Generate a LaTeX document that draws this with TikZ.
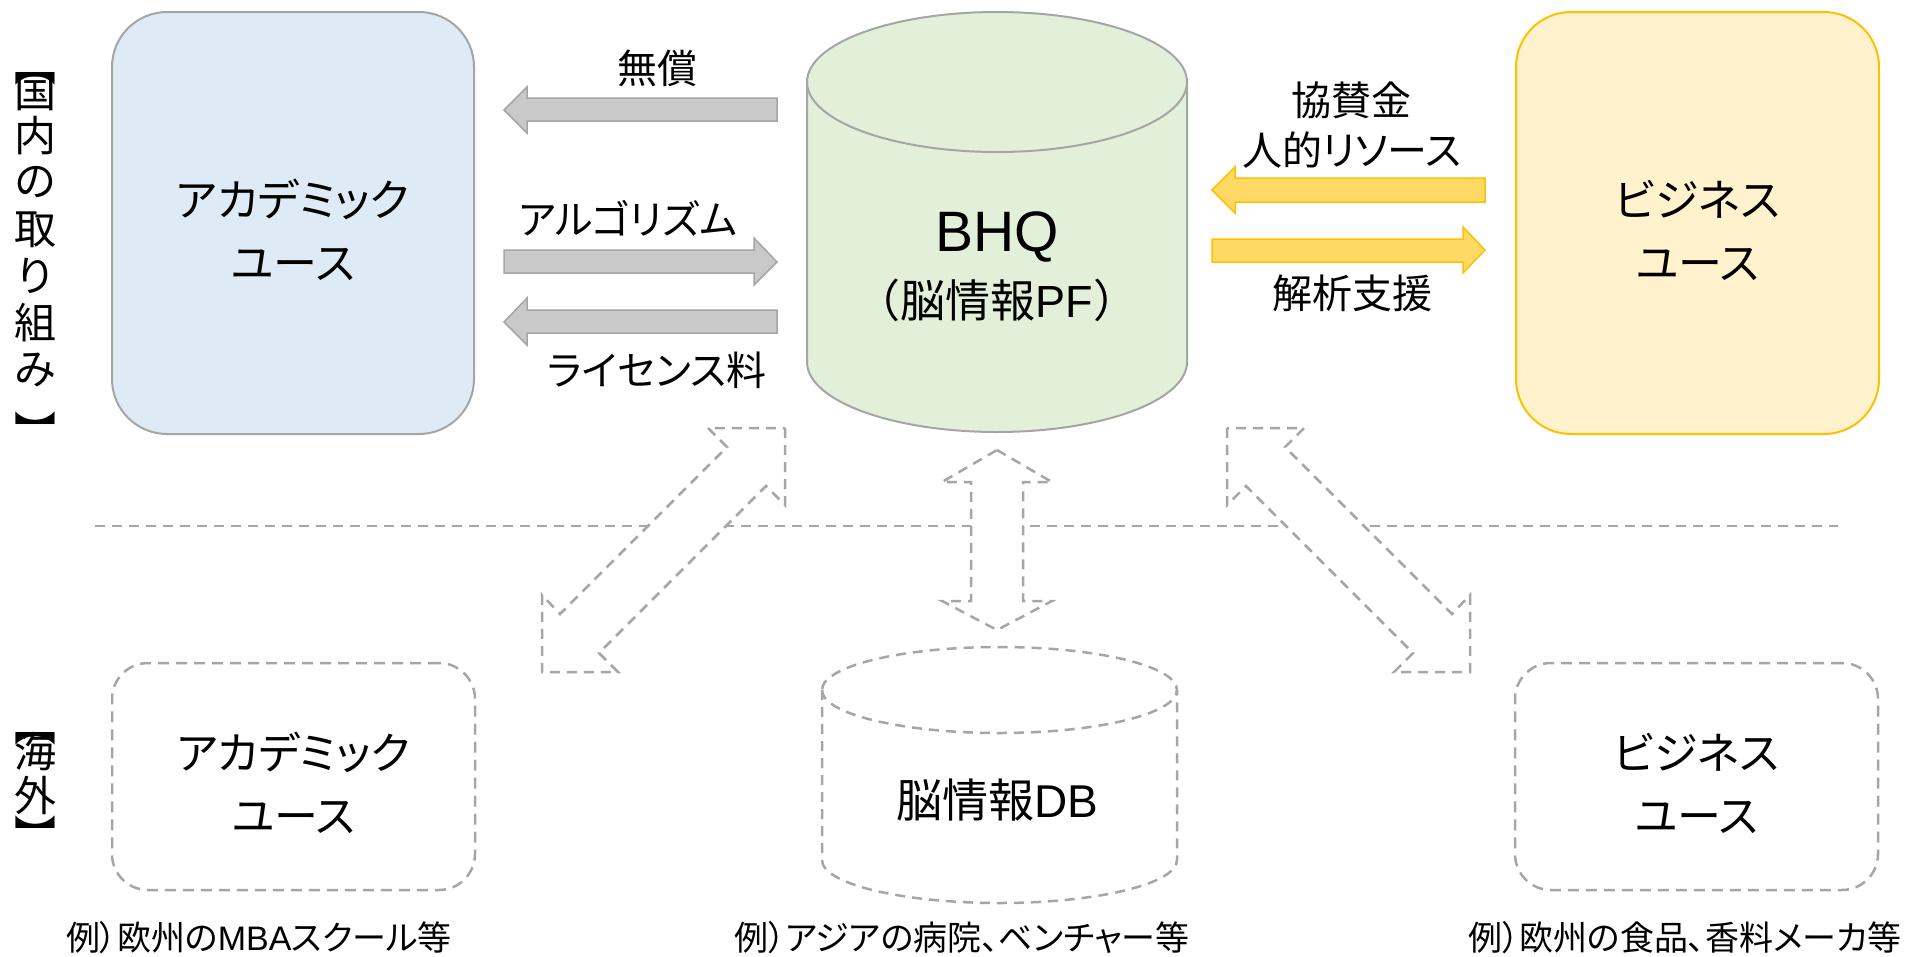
\documentclass[tikz,border=0pt]{standalone}
\usepackage{fontspec}
\setmainfont{Noto Sans CJK JP}[RawFeature=+palt]
\newfontfamily\jpf{Noto Sans CJK JP}
\newfontfamily\latf{Liberation Sans}
\newcommand\myfs[2]{\fontsize{#1}{#2}\selectfont}
\definecolor{gline}{HTML}{A5A5A5}
\definecolor{gfill}{HTML}{C9C9C9}
\definecolor{yline}{HTML}{FFC000}
\definecolor{yfill}{HTML}{FFD966}
\definecolor{bfill}{HTML}{DEEBF7}
\definecolor{cfill}{HTML}{E2F0D9}
\definecolor{bzfill}{HTML}{FFF2CC}
\definecolor{dline}{HTML}{A6A6A6}
\begin{document}
\begin{tikzpicture}[x=1pt,y=-1pt,
  solidbox/.style={draw=gline, line width=2pt, inner sep=0pt},
  dashbox/.style={draw=dline, line width=2.5pt, dash pattern=on 11pt off 7pt, fill=white, inner sep=0pt},
  dashshape/.style={draw=dline, line width=2.5pt, dash pattern=on 10pt off 7pt, fill=white},
  garrow/.style={draw=gline, fill=gfill, line width=1.5pt},
  yarrow/.style={draw=yline, fill=yfill, line width=1.5pt},
  lbl/.style={inner sep=0pt, align=center, font={\myfs{40}{48}}},
  boxlbl/.style={inner sep=0pt, align=center, font={\myfs{44}{63}}},
  exlbl/.style={inner sep=0pt, align=center, font={\myfs{34}{40}}},
  side/.style={inner sep=0pt, font={\myfs{42}{46}}}]
\useasboundingbox (0,0) rectangle (1917,956);

% separator line
\draw[draw=dline, line width=2.5pt, dash pattern=on 10pt off 7pt] (95,526) coordinate (sepL) -- (1838,526) coordinate (sepR);

% ---- top row ----
\node[solidbox, fill=bfill, rounded corners=55pt, minimum width=362pt, minimum height=422pt] (acad) at (293,223) {};
\node[boxlbl] (acadt) at (293,230) {アカデミック\\ユース};

\node[draw=yline, line width=2pt, inner sep=0pt, fill=bzfill, rounded corners=55pt, minimum width=363pt, minimum height=422pt] (biz) at (1697.5,223) {};
\node[boxlbl] (bizt) at (1697.5,230) {ビジネス\\ユース};

% BHQ cylinder
\filldraw[draw=gline, fill=cfill, line width=2pt]
  (807,82) -- (807,362) arc[start angle=180, end angle=0, x radius=190, y radius=70]
  -- (1187,82) arc[start angle=0, end angle=-180, x radius=190, y radius=70] -- cycle;
\draw[draw=gline, line width=2pt] (807,82) arc[start angle=180, end angle=0, x radius=190, y radius=70];
\node[inner sep=0pt, font={\latf\myfs{57}{60}}] (bhq) at (997,237) {BHQ};
\node[inner sep=0pt, font={\myfs{45}{50}}] (bhqsub) at (997,300) {{\jpf （}脳情報{\latf PF}{\jpf ）}};

% gray arrows
\draw[garrow] (504,110) -- (527,87) -- (527,98) -- (777,98) -- (777,121) -- (527,121) -- (527,133) -- cycle;
\draw[garrow] (777,262) -- (754,238) -- (754,250) -- (504,250) -- (504,273) -- (754,273) -- (754,285) -- cycle;
\draw[garrow] (504,322) -- (527,298) -- (527,310) -- (777,310) -- (777,333) -- (527,333) -- (527,345) -- cycle;
\node[lbl] (l1) at (657,68) {無償};
\node[lbl] (l2) at (628,218) {アルゴリズム};
\node[lbl] (l3) at (657,370) {ライセンス料};

% yellow arrows
\draw[yarrow] (1212,190) -- (1235,167) -- (1235,178) -- (1485,178) -- (1485,202) -- (1235,202) -- (1235,213) -- cycle;
\draw[yarrow] (1485,250) -- (1463,227) -- (1463,239) -- (1212,239) -- (1212,262) -- (1463,262) -- (1463,273) -- cycle;
\node[lbl] (r1) at (1351,100) {協賛金};
\node[lbl] (r2) at (1352,150) {人的リソース};
\node[lbl] (r3) at (1352,293) {解析支援};

% dashed double arrows
\draw[dashshape] (785,428) -- (785,505) -- (766,486) -- (599,653) -- (618,672) -- (542,672) -- (542,595) -- (560,614) -- (727,447) -- (708,428) -- cycle;
\draw[dashshape] (1227,428) -- (1227,505) -- (1246,486) -- (1413,653) -- (1394,672) -- (1470,672) -- (1470,595) -- (1452,614) -- (1285,447) -- (1304,428) -- cycle;
\draw[dashshape] (997,450) -- (1052,482) -- (1023,482) -- (1023,601) -- (1052,601) -- (997,630) -- (942,601) -- (971,601) -- (971,482) -- (942,482) -- cycle;

% ---- bottom row ----
\node[dashbox, rounded corners=36pt, minimum width=363pt, minimum height=227pt] (acad2) at (293.5,776.5) {};
\node[boxlbl] (acad2t) at (293.5,783) {アカデミック\\ユース};

\node[dashbox, rounded corners=36pt, minimum width=363pt, minimum height=227pt] (biz2) at (1696.5,776.5) {};
\node[boxlbl] (biz2t) at (1696.5,783) {ビジネス\\ユース};

% DB cylinder dashed
\draw[dashshape]
  (822,690) -- (822,860) arc[start angle=180, end angle=0, x radius=177.5, y radius=43]
  -- (1177,690) arc[start angle=0, end angle=-180, x radius=177.5, y radius=43] -- cycle;
\draw[draw=dline, line width=2.5pt, dash pattern=on 10pt off 7pt] (822,690) arc[start angle=180, end angle=0, x radius=177.5, y radius=43];
\node[inner sep=0pt, font={\myfs{46}{50}}] (db) at (997,800) {脳情報{\latf DB}};

% examples
\node[exlbl] (ex1) at (259,938) {例）欧州の{\latf MBA}スクール等};
\node[exlbl] (ex2) at (962,938) {例）アジアの病院、ベンチャー等};
\node[exlbl] (ex3) at (1685,938) {例）欧州の食品、香料メーカ等};

% side labels
\node[side, rotate=-90] (sb1) at (35,75) {【};
\node[side] (s1) at (35,92) {国};
\node[side] (s2) at (35,136) {内};
\node[side] (s3) at (35,182) {の};
\node[side] (s4) at (35,230) {取};
\node[side] (s5) at (35,276) {り};
\node[side] (s6) at (35,323) {組};
\node[side] (s7) at (35,370) {み};
\node[side, rotate=-90] (sb2) at (35,422) {】};

\node[side, rotate=-90] (sb3) at (35,735) {【};
\node[side] (s8) at (35,752) {海};
\node[side] (s9) at (35,795) {外};
\node[side, rotate=-90] (sb4) at (35,826) {】};
\end{tikzpicture}
\end{document}
